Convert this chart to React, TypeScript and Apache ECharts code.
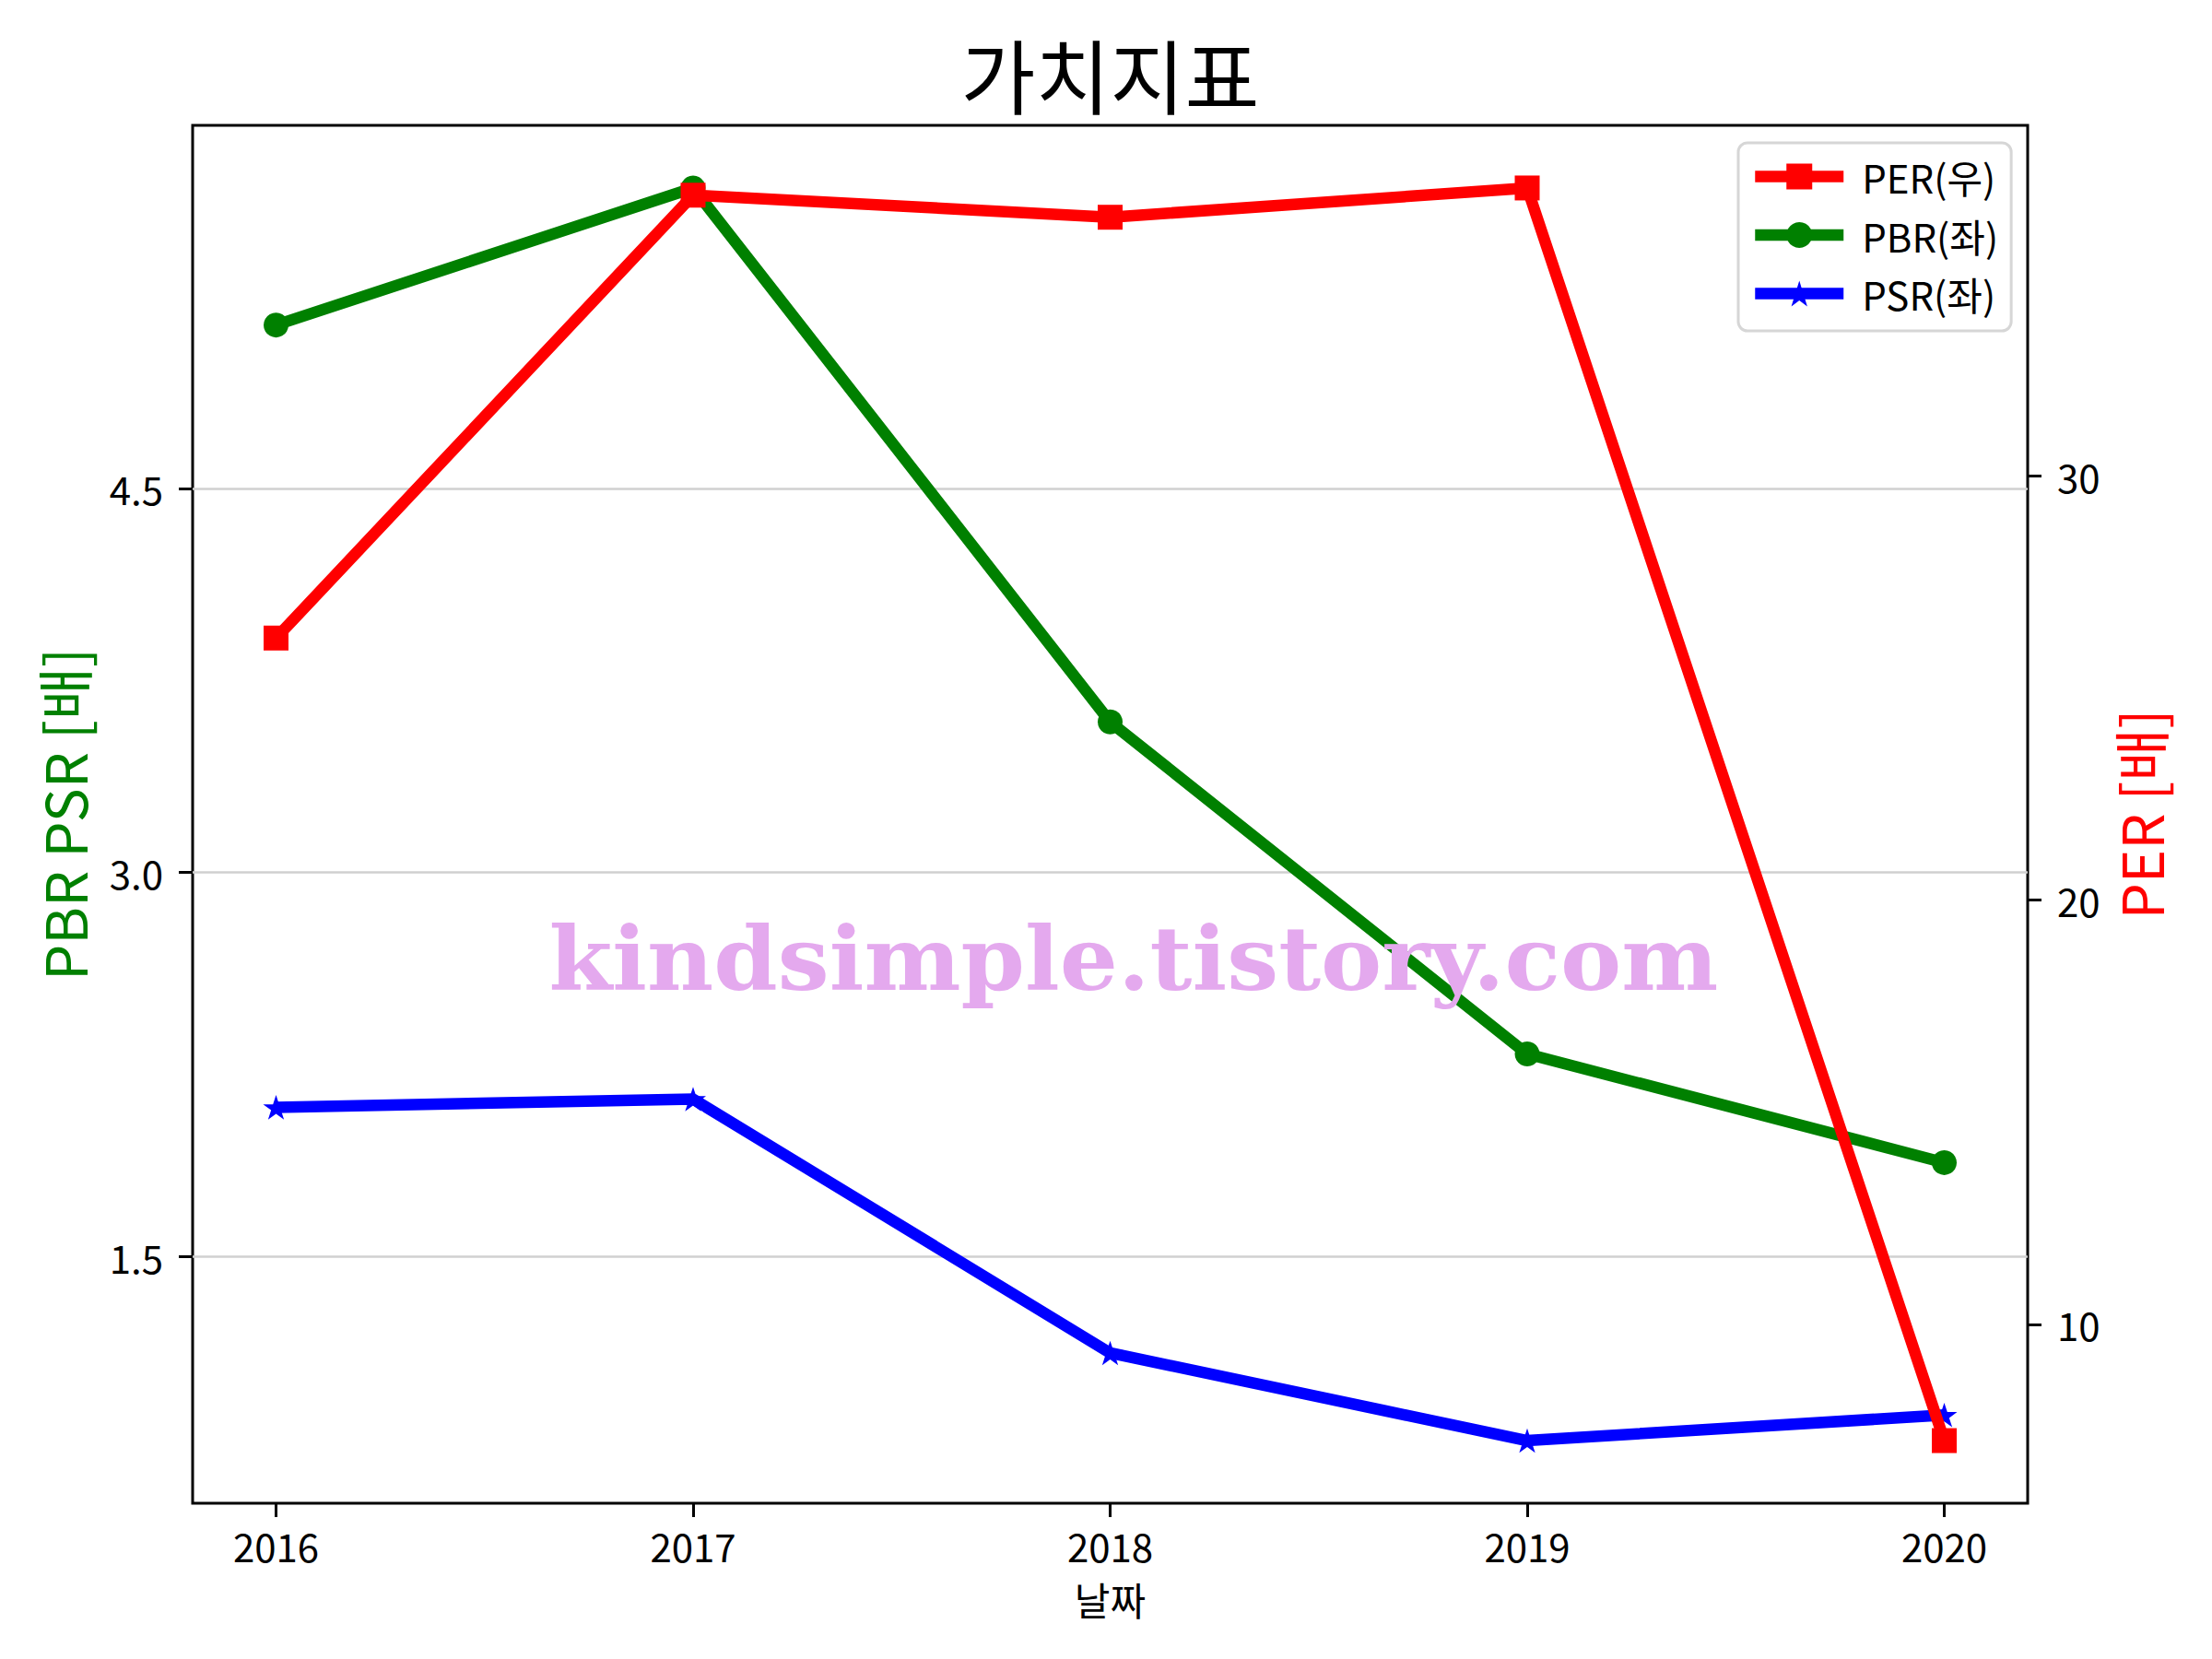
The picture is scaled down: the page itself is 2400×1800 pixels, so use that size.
import React, { useEffect, useRef } from "react";
import * as echarts from "echarts";

// ---- data ----
const years = [2016, 2017, 2018, 2019, 2020];
const perValues = [26.18, 36.62, 36.1, 36.79, 7.26];
const pbrValues = [5.137, 5.672, 3.588, 2.292, 1.868];
const psrValues = [2.084, 2.116, 1.125, 0.783, 0.883];
const leftTicks = [1.5, 3.0, 4.5];
const rightTicks = [10, 20, 30];
const seriesNames = ["PER(우)", "PBR(좌)", "PSR(좌)"];
const titleText = "가치지표";
const xName = "날짜";
const leftName = "PBR PSR [배]";
const rightName = "PER [배]";
const watermarkText = "kindsimple.tistory.com";

const FONT = "'Noto Sans CJK KR', 'Noto Sans', sans-serif";

function starPath(): string {
  const pts: string[] = [];
  for (let i = 0; i < 10; i++) {
    const r = i % 2 === 0 ? 50 : 19.1;
    const a = -Math.PI / 2 + (i * Math.PI) / 5;
    pts.push(`${(50 + r * Math.cos(a)).toFixed(2)} ${(50 + r * Math.sin(a)).toFixed(2)}`);
  }
  return "path://M" + pts.join(" L") + " Z";
}

const toPairs = (vals: number[]) => years.map((y, i) => [y, vals[i]]);

function padRange(vals: number[]): [number, number] {
  const lo = Math.min(...vals);
  const hi = Math.max(...vals);
  const p = (hi - lo) * 0.05;
  return [lo - p, hi + p];
}

export default function App() {
  const ref = useRef<HTMLDivElement>(null);

  useEffect(() => {
    document.body.style.margin = "0";
    if (!ref.current) return;
    const chart = echarts.init(ref.current, undefined, { renderer: "svg" });
    const [lMin, lMax] = padRange([...pbrValues, ...psrValues]);
    const [rMin, rMax] = padRange(perValues);
    const xPad = (years[years.length - 1] - years[0]) * 0.05;
    const tickStyle = { color: "#000", width: 3 };
    const labelStyle = { color: "#000", fontSize: 42, fontFamily: FONT };

    chart.setOption({
      animation: false,
      backgroundColor: "#ffffff",
      grid: {
        left: 209,
        right: 200,
        top: 136,
        bottom: 169,
        show: true,
        borderColor: "#000",
        borderWidth: 3,
        backgroundColor: "transparent",
        containLabel: false,
      },
      legend: {
        data: seriesNames,
        orient: "vertical",
        left: 1886,
        top: 155,
        itemWidth: 96,
        itemHeight: 35,
        itemGap: 14.5,
        padding: [12, 14, 16, 12],
        backgroundColor: "rgba(255,255,255,0.8)",
        borderColor: "#d6d6d6",
        borderWidth: 3,
        borderRadius: 10,
        lineStyle: { width: 12.5 },
        textStyle: {
          fontSize: 42,
          fontFamily: FONT,
          color: "#000",
          lineHeight: 49,
          padding: [0, 0, 0, 15],
        },
      },
      xAxis: {
        type: "value",
        min: years[0] - xPad,
        max: years[years.length - 1] + xPad,
        axisLine: { show: false },
        axisTick: { show: true, customValues: years, length: 15, lineStyle: tickStyle },
        axisLabel: {
          customValues: years,
          formatter: (v: number) => String(v),
          margin: 24,
          ...labelStyle,
        },
        splitLine: { show: false },
        name: xName,
        nameLocation: "middle",
        nameGap: 82,
        nameTextStyle: { ...labelStyle },
      },
      yAxis: [
        {
          type: "value",
          position: "left",
          min: lMin,
          max: lMax,
          axisLine: { show: false },
          axisTick: { show: true, customValues: leftTicks, length: 15, lineStyle: tickStyle },
          axisLabel: {
            customValues: leftTicks,
            formatter: (v: number) => v.toFixed(1),
            margin: 32,
            ...labelStyle,
          },
          splitLine: { show: true, lineStyle: { color: "#d0d0d0", width: 2.5 } },
          name: leftName,
          nameLocation: "middle",
          nameRotate: 90,
          nameGap: 110,
          nameTextStyle: { color: "#008000", fontSize: 62, fontFamily: FONT },
        },
        {
          type: "value",
          position: "right",
          min: rMin,
          max: rMax,
          axisLine: { show: false },
          axisTick: { show: true, customValues: rightTicks, length: 15, lineStyle: tickStyle },
          axisLabel: {
            customValues: rightTicks,
            formatter: (v: number) => String(v),
            margin: 32,
            ...labelStyle,
          },
          splitLine: { show: false },
          name: rightName,
          nameLocation: "middle",
          nameRotate: 90,
          nameGap: 79,
          nameTextStyle: { color: "#ff0000", fontSize: 62, fontFamily: FONT },
        },
      ],
      series: [
        {
          name: seriesNames[1],
          type: "line",
          yAxisIndex: 0,
          data: toPairs(pbrValues),
          symbol: "circle",
          symbolSize: 27,
          lineStyle: { color: "#008000", width: 12.5 },
          itemStyle: { color: "#008000" },
          z: 2,
          silent: true,
        },
        {
          name: seriesNames[2],
          type: "line",
          yAxisIndex: 0,
          data: toPairs(psrValues),
          symbol: starPath(),
          symbolKeepAspect: true,
          symbolSize: 28,
          lineStyle: { color: "#0000ff", width: 12.5 },
          itemStyle: { color: "#0000ff" },
          z: 3,
          silent: true,
        },
        {
          name: seriesNames[0],
          type: "line",
          yAxisIndex: 1,
          data: toPairs(perValues),
          symbol: "rect",
          symbolSize: 27,
          lineStyle: { color: "#ff0000", width: 12.5 },
          itemStyle: { color: "#ff0000" },
          z: 4,
          silent: true,
        },
      ],
      graphic: [
        {
          type: "text",
          x: 1204.5,
          y: 78,
          z: 100,
          style: {
            text: titleText,
            fontSize: 88,
            fontFamily: FONT,
            fill: "#000",
            align: "center",
            verticalAlign: "middle",
            textAlign: "center",
            textVerticalAlign: "middle",
          },
        },
        {
          type: "text",
          x: 1230,
          y: 1040,
          z: 100,
          scaleX: 1.035,
          style: {
            text: watermarkText,
            fontSize: 96,
            fontWeight: "bold",
            fontFamily: "'DejaVu Serif', serif",
            fill: "#E4A9EE",
            align: "center",
            verticalAlign: "middle",
            textAlign: "center",
            textVerticalAlign: "middle",
          },
        },
      ],
    });
    return () => chart.dispose();
  }, []);

  return <div ref={ref} style={{ width: 2400, height: 1800 }} />;
}
